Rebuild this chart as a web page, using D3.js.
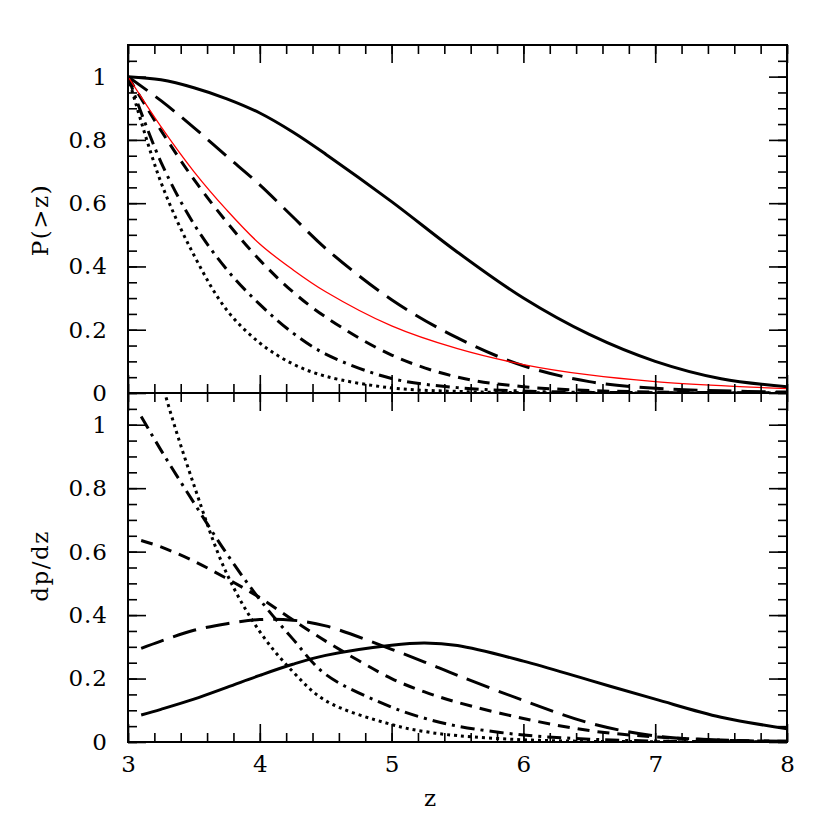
<!DOCTYPE html>
<html>
<head>
<meta charset="UTF-8">
<title>P(>z) and dp/dz</title>
<script src="https://cdn.jsdelivr.net/npm/d3@7"></script>
<style>
  * { margin: 0; padding: 0; }
  body { background: #fff; }
  text { font-family: "DejaVu Serif", "Liberation Serif", serif; fill: #000; }
</style>
</head>
<body>
<div id="chart"></div>
<script>
// z grid for the cumulative panel
var zTop = [3, 3.25, 3.5, 3.75, 4, 4.25, 4.5, 5, 5.5, 6, 6.5, 7, 7.5, 8];
var pSolid    = [1, 0.99, 0.965, 0.93, 0.885, 0.825, 0.755, 0.605, 0.445, 0.30, 0.185, 0.10, 0.045, 0.02];
var pLongDash = [1, 0.924, 0.839, 0.748, 0.658, 0.557, 0.457, 0.295, 0.174, 0.086, 0.036, 0.015, 0.007, 0.003];
var pRed      = [1, 0.842, 0.70, 0.578, 0.471, 0.39, 0.32, 0.212, 0.14, 0.09, 0.057, 0.036, 0.023, 0.014];
var pShort    = [1, 0.83, 0.675, 0.54, 0.42, 0.32, 0.24, 0.12, 0.05, 0.02, 0.008, 0.003, 0.001, 0];
var pDotDash  = [1, 0.73, 0.534, 0.39, 0.28, 0.19, 0.123, 0.046, 0.017, 0.006, 0.002, 0.001, 0, 0];
var pDotted   = [1, 0.666, 0.436, 0.262, 0.158, 0.092, 0.053, 0.016, 0.005, 0.001, 0, 0, 0, 0];

// z grid for the differential panel
var zBot = [3.1, 3.25, 3.5, 3.75, 4, 4.25, 4.5, 5, 5.25, 5.5, 6, 6.5, 7, 7.5, 8];
var dSolid    = [0.085, 0.103, 0.135, 0.172, 0.21, 0.245, 0.273, 0.305, 0.312, 0.304, 0.255, 0.195, 0.135, 0.078, 0.042];
var dLongDash = [0.295, 0.318, 0.352, 0.373, 0.386, 0.384, 0.366, 0.292, 0.252, 0.21, 0.131, 0.06, 0.019, 0.006, 0.002];
var dShort    = [0.635, 0.615, 0.57, 0.515, 0.455, 0.385, 0.318, 0.2, 0.158, 0.125, 0.074, 0.036, 0.016, 0.006, 0.002];
var dDotDash  = [1.026, 0.92, 0.754, 0.593, 0.449, 0.325, 0.213, 0.11, 0.075, 0.05, 0.022, 0.009, 0.003, 0.001, 0];
var dDotted   = [1.43, 1.145, 0.81, 0.53, 0.348, 0.222, 0.13, 0.055, 0.033, 0.02, 0.007, 0.002, 0.001, 0, 0];

var xMajor = [3, 4, 5, 6, 7, 8];
var yMajor = [0, 0.2, 0.4, 0.6, 0.8, 1];

(function () {
var W = 830, H = 830;
var pLeft = 128, pRight = 787, pTop = 45, pMid = 393, pBottom = 742;

var svg = d3.select("#chart").append("svg")
    .attr("width", W).attr("height", H);

var x = d3.scaleLinear().domain([3, 8]).range([pLeft, pRight]);
var yTop = d3.scaleLinear().domain([0, 1.1]).range([pMid, pTop]);
var yBot = d3.scaleLinear().domain([0, 1.1]).range([pBottom, pMid]);

var fmt = d3.format("~g");
var xMinor = d3.range(3, 8.001, 0.2);
var yMinor = d3.range(0, 1.1, 0.05);

// line styles: [dasharray, width, colour]
var styles = {
    solid: [null, 3, "#000"],
    longdash: ["24,10", 3, "#000"],
    shortdash: ["12,8", 3, "#000"],
    dotdash: ["14,6,3,6", 3, "#000"],
    dotted: ["3,4", 3, "#000"],
    red: [null, 1.3, "#ff0000"]
};

function panel(y, y0, y1, id, series, zs, labelTitle, titleY) {
    var g = svg.append("g");

    svg.append("clipPath").attr("id", id)
        .append("rect").attr("x", pLeft).attr("y", y1)
        .attr("width", pRight - pLeft).attr("height", y0 - y1);

    var line = d3.line()
        .x(function(d) { return x(d[0]); })
        .y(function(d) { return y(d[1]); })
        .curve(d3.curveCatmullRom.alpha(0.5));

    var lg = g.append("g").attr("clip-path", "url(#" + id + ")");
    series.forEach(function(s) {
        var st = styles[s[0]];
        lg.append("path")
            .attr("d", line(d3.zip(zs, s[1])))
            .attr("fill", "none")
            .attr("stroke", st[2])
            .attr("stroke-width", st[1])
            .attr("stroke-dasharray", st[0]);
    });

    // inward ticks on all four sides
    function axis(a, pos, size, vals, labels) {
        var ax = a.tickValues(vals).tickSizeInner(-size).tickSizeOuter(0)
            .tickPadding(labels ? 20 : 0)
            .tickFormat(labels ? fmt : "");
        var ga = g.append("g").attr("transform", pos).call(ax);
        ga.select(".domain").remove();
        ga.selectAll("line").attr("stroke", "#000").attr("stroke-width", 1.6);
        ga.selectAll("text").attr("font-size", 23).attr("fill", "#000")
            .style("font-family", "DejaVu Serif, serif")
            .style("letter-spacing", "1px");
        return ga;
    }
    axis(d3.axisLeft(y), "translate(" + pLeft + ",0)", 18, yMajor, true);
    axis(d3.axisLeft(y), "translate(" + pLeft + ",0)", 9, yMinor, false);
    axis(d3.axisRight(y), "translate(" + pRight + ",0)", 18, yMajor, false);
    axis(d3.axisRight(y), "translate(" + pRight + ",0)", 9, yMinor, false);
    axis(d3.axisTop(x), "translate(0," + y1 + ")", 18, xMajor, false);
    axis(d3.axisTop(x), "translate(0," + y1 + ")", 9, xMinor, false);
    axis(d3.axisBottom(x), "translate(0," + y0 + ")", 18, xMajor, false);
    axis(d3.axisBottom(x), "translate(0," + y0 + ")", 9, xMinor, false);

    g.append("rect")
        .attr("x", pLeft).attr("y", y1)
        .attr("width", pRight - pLeft).attr("height", y0 - y1)
        .attr("fill", "none").attr("stroke", "#000").attr("stroke-width", 2);

    g.append("text")
        .attr("transform", "translate(48," + titleY + ") rotate(-90)")
        .attr("text-anchor", "middle")
        .attr("font-size", 23)
        .style("letter-spacing", "1.5px")
        .text(labelTitle);
}

panel(yTop, pMid, pTop, "clipTop", [
    ["solid", pSolid], ["longdash", pLongDash], ["shortdash", pShort],
    ["dotdash", pDotDash], ["dotted", pDotted], ["red", pRed]
], zTop, "P(>z)", 220);

panel(yBot, pBottom, pMid, "clipBot", [
    ["solid", dSolid], ["longdash", dLongDash], ["shortdash", dShort],
    ["dotdash", dDotDash], ["dotted", dDotted]
], zBot, "dp/dz", 566);

// bottom x labels
var gx = svg.append("g").attr("transform", "translate(0," + pBottom + ")")
    .call(d3.axisBottom(x).tickValues(xMajor).tickSize(0).tickPadding(14).tickFormat(fmt));
gx.select(".domain").remove();
gx.selectAll("text").attr("font-size", 23).style("font-family", "DejaVu Serif, serif");

svg.append("text")
    .attr("x", 430).attr("y", 806)
    .attr("text-anchor", "middle")
    .attr("font-size", 23)
    .text("z");
})();
</script>
</body>
</html>
